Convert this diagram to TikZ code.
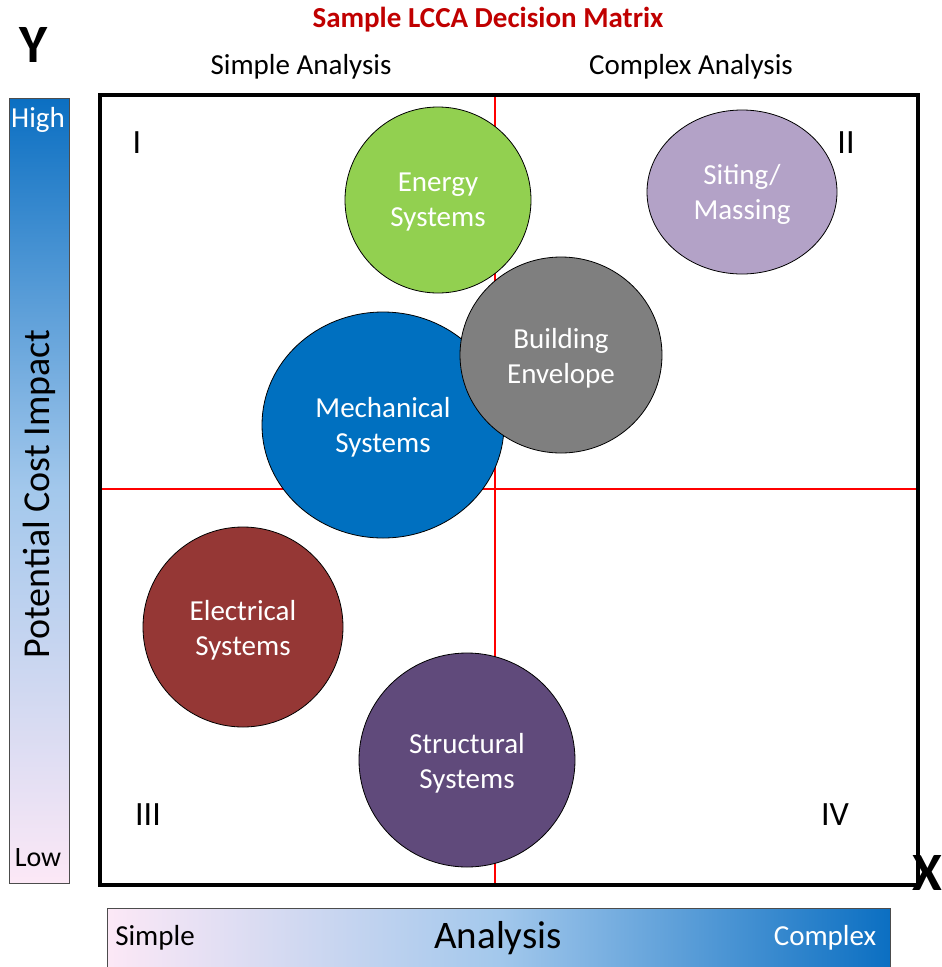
\documentclass[tikz,border=0pt]{standalone}
\usepackage{fontspec}
\setmainfont{Carlito}
\usetikzlibrary{shapes.geometric}
\definecolor{energyc}{HTML}{92D050}
\definecolor{sitingc}{HTML}{B3A2C7}
\definecolor{buildc}{HTML}{7F7F7F}
\definecolor{mechc}{HTML}{0070C0}
\definecolor{elecc}{HTML}{953735}
\definecolor{structc}{HTML}{604A7B}
\definecolor{titlec}{HTML}{C00000}
\definecolor{barblue}{HTML}{0B6FC2}
\definecolor{barmid}{HTML}{A3C8EC}
\definecolor{barpink}{HTML}{FCE8F6}
\tikzset{
  bubble/.style={ellipse, draw=black, line width=0.8pt, inner sep=0pt, align=center,
    text=white, font=\fontsize{29}{35}\selectfont},
  btext/.style={text=white, align=center, font=\fontsize{29}{35}\selectfont},
  quad/.style={font=\fontsize{34}{36}\selectfont},
  axislbl/.style={font=\fontsize{29}{32}\selectfont},
  redline/.style={draw=red, line width=2.8pt},
}
\begin{document}
\begin{tikzpicture}[x=1pt,y=-1pt]
\useasboundingbox (0,0) rectangle (942,967);
% Y bar
\path[top color=barblue, bottom color=barpink, middle color=barmid, draw=black!70, line width=0.8pt]
  (9,98) rectangle (69,883);
\node[text=white, font=\fontsize{29}{32}\selectfont] (high) at (38,120) {High};
\node[font=\fontsize{28}{32}\selectfont] (low) at (38,858) {Low};
\node[rotate=90, font=\fontsize{38}{42}\selectfont] (pci) at (39,494) {Potential Cost Impact};
% X bar
\path[left color=barpink, right color=barblue, middle color=barmid, draw=black!70, line width=0.8pt]
  (107,908) rectangle (890,975);
\node[font=\fontsize{29}{32}\selectfont] (simple) at (155,938) {Simple};
\node[font=\fontsize{39}{42}\selectfont] (analysis) at (498,938) {Analysis};
\node[text=white, font=\fontsize{29}{32}\selectfont] (complex) at (825,938) {Complex};
% axis letters
\node[font=\fontsize{54}{58}\selectfont\bfseries] (ylet) at (34,45) {Y};
\node[font=\fontsize{54}{58}\selectfont\bfseries] (xlet) at (927,873) {X};
% title
\node[text=titlec, font=\fontsize{29}{32}\selectfont\bfseries] (title) at (488,20) {Sample LCCA Decision Matrix};
\node[axislbl] (sa) at (301,67) {Simple Analysis};
\node[axislbl] (ca) at (691,67) {Complex Analysis};
% red lines
\draw[redline] (495,95) -- (495,885);
\draw[redline] (100,489) -- (918,489);
% frame
\draw[line width=3.5pt] (100,95) rectangle (918,885);
% quadrant numerals
\node[quad] (q1) at (137,143) {I};
\node[quad] (q2) at (846,143) {II};
\node[quad] (q3) at (148,815) {III};
\node[quad] (q4) at (835,815) {IV};
% bubbles
\node[bubble, fill=energyc, minimum width=186pt, minimum height=186pt] (energy) at (438,200) {};
\node[btext] (energyt) at (438,202) {Energy\\Systems};
\node[bubble, fill=sitingc, minimum width=190pt, minimum height=164pt] (siting) at (742,192) {};
\node[btext] (sitingt) at (742,194) {Siting/\\Massing};
\node[bubble, fill=mechc, minimum width=242pt, minimum height=226pt] (mech) at (383,425) {};
\node[btext] (mecht) at (383,427) {Mechanical\\Systems};
\node[bubble, fill=buildc, minimum width=202pt, minimum height=196pt] (build) at (561,355) {};
\node[btext] (buildt) at (561,358) {Building\\Envelope};
\node[bubble, fill=elecc, minimum width=200pt, minimum height=200pt] (elec) at (243,627) {};
\node[btext] (elect) at (243,630) {Electrical\\Systems};
\node[bubble, fill=structc, minimum width=216pt, minimum height=214pt] (struct) at (467,760) {};
\node[btext] (structt) at (467,763) {Structural\\Systems};
\end{tikzpicture}
\end{document}
